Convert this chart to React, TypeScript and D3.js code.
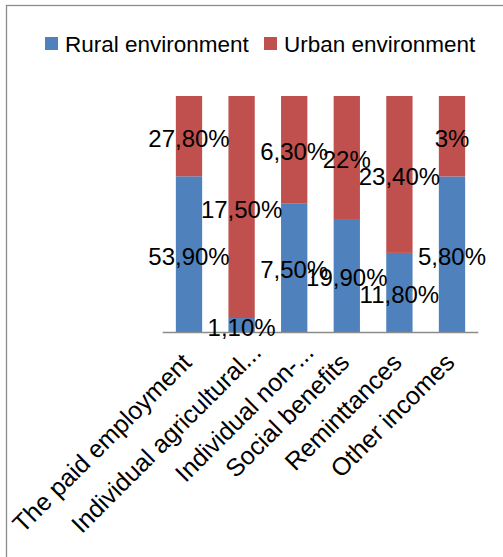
import * as d3 from "d3";

const categories = [
  "The paid employment",
  "Individual agricultural...",
  "Individual non-...",
  "Social benefits",
  "Reminttances",
  "Other incomes",
];
const rural = [53.9, 1.1, 7.5, 19.9, 11.8, 5.8];
const urban = [27.8, 17.5, 6.3, 22, 23.4, 3];
const seriesNames = ["Rural environment", "Urban environment"];
const colors = ["#4F81BD", "#C0504D"];

const W = 503;
const H = 557;
const FONT = "'Liberation Sans', Arial, sans-serif";

export default function App() {
  const rows = categories.map((c, i) => ({ cat: c, rural: rural[i], urban: urban[i] }));
  const stack = d3
    .stack<{ cat: string; rural: number; urban: number }>()
    .keys(["rural", "urban"])
    .offset(d3.stackOffsetExpand);
  const layers = stack(rows);
  const raw = [rural, urban];

  const x = d3
    .scaleBand<string>()
    .domain(categories)
    .range([162.7, 478.3])
    .paddingInner(0.5)
    .paddingOuter(0.25);
  const y = d3.scaleLinear().domain([0, 1]).range([332, 96]);

  // Excel writes 53,90% style labels
  const label = (v: number) => {
    if (Number.isInteger(v)) return `${v}%`;
    return `${v.toFixed(2).replace(".", ",")}%`;
  };

  return (
    <svg
      width={W}
      height={H}
      style={{ position: "absolute", left: 0, top: 0, background: "#fff" }}
      fontFamily={FONT}
    >
      <rect x={6.5} y={5.5} width={600} height={600} fill="#fff" stroke="#8c8c8c" strokeWidth={1.3} />

      {/* legend */}
      {seriesNames.map((s, i) => {
        const lx = i === 0 ? 45 : 264;
        return (
          <g key={s}>
            <rect x={lx} y={37} width={13} height={13} fill={colors[i]} />
            <text x={lx + 20} y={52} fontSize={22.5} fill="#000">
              {s}
            </text>
          </g>
        );
      })}

      {/* bars */}
      {layers.map((layer, li) => (
        <g key={layer.key}>
          {layer.map((d, i) => (
            <rect
              key={i}
              x={x(d.data.cat)}
              y={y(d[1])}
              width={x.bandwidth()}
              height={y(d[0]) - y(d[1])}
              fill={colors[li]}
            />
          ))}
        </g>
      ))}

      {/* axis */}
      <line x1={162.7} x2={478.3} y1={332.5} y2={332.5} stroke="#8c8c8c" strokeWidth={1.5} />

      {/* data labels */}
      {layers.map((layer, li) =>
        layer.map((d, i) => (
          <text
            key={`${li}-${i}`}
            x={x(d.data.cat)! + x.bandwidth() / 2}
            y={(y(d[0]) + y(d[1])) / 2 + 2}
            textAnchor="middle"
            dominantBaseline="central"
            fontSize={24}
            fill="#000"
          >
            {label(raw[li][i])}
          </text>
        ))
      )}

      {/* category labels, truncated ones sit a bit further out */}
      {categories.map((c) => {
        const cx = x(c)! + x.bandwidth() / 2;
        const extra = c.endsWith("...") ? 17 : 0;
        return (
          <text
            key={c}
            transform={`translate(${cx + 4 + extra},${364 - extra * 0.6}) rotate(-45)`}
            textAnchor="end"
            fontSize={25}
            fill="#000"
          >
            {c}
          </text>
        );
      })}
    </svg>
  );
}
